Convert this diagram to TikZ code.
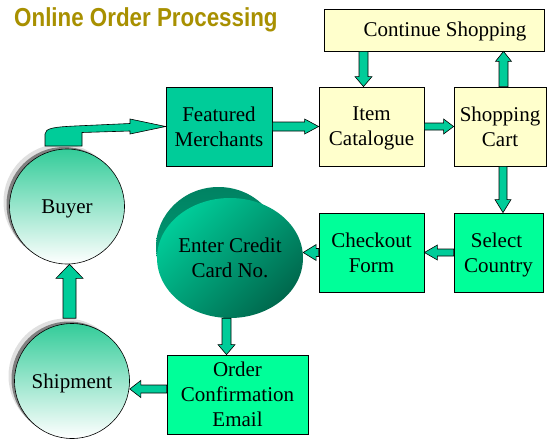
\documentclass[tikz,border=0pt]{standalone}
\usepackage{fontspec}
\setmainfont{Liberation Serif}
\newfontfamily\titlefont{Liberation Sans}
\usetikzlibrary{calc,shapes.geometric}
\definecolor{teal1}{HTML}{00CC99}
\definecolor{green1}{HTML}{00FF99}
\definecolor{yell}{HTML}{FFFFCC}
\definecolor{olive1}{HTML}{A89000}
\definecolor{circtop}{HTML}{33CC99}
\definecolor{ecl}{HTML}{00CC99}
\definecolor{ecd}{HTML}{00684D}
\definecolor{ebl}{HTML}{00A880}
\definecolor{ebd}{HTML}{008262}
\newcommand\barrow[5]{%
  \path (#1) coordinate (ba) (#2) coordinate (bb);
  \path ($(bb)!#5!(ba)$) coordinate (bc);
  \draw[blk] ($(ba)!#3!90:(bb)$) -- ($(bc)!#3!90:(bb)$) -- ($(bc)!#4!90:(bb)$) -- (bb)
     -- ($(bc)!#4!-90:(bb)$) -- ($(bc)!#3!-90:(bb)$) -- ($(ba)!#3!-90:(bb)$) -- cycle;}
\begin{document}
\begin{tikzpicture}[x=1pt,y=-1pt,
  blk/.style={draw=black,line width=0.6pt,fill=teal1,line join=miter},
  box/.style={draw=black,line width=0.8pt,inner sep=0pt,align=center,
    font=\fontsize{21}{25}\selectfont,text depth=0pt},
  rnd/.style={circle,draw=black,line width=0.6pt,inner sep=0pt,minimum size=115pt,
    top color=circtop,bottom color=white,font=\fontsize{21}{25}\selectfont,
    text height=14pt,text depth=0pt},
  shad/.style={fill=black!50},
  halo/.style={fill=black!12}]
\fill[white] (0,0) rectangle (553,444);
\useasboundingbox (0,0) rectangle (553,444);
% title
\node[anchor=base west,inner sep=0pt,text=olive1,font=\titlefont\bfseries\fontsize{26}{30}\selectfont]
  (title) at (14,27) {\scalebox{0.86}[1]{Online Order Processing}};
% boxes
\node[box,fill=teal1,minimum width=106pt,minimum height=79pt] (fm) at (219,126.5) {Featured\\Merchants};
\node[box,fill=yell,minimum width=105pt,minimum height=79pt] (ic) at (371.5,126.5) {Item\\Catalogue};
\node[box,fill=yell,minimum width=92pt,minimum height=79pt] (sc) at (500,126.5) {Shopping\\Cart};
\node[box,fill=yell,minimum width=220pt,minimum height=42pt,text height=14pt] (cs) at (434,30) {\hspace*{22pt}Continue Shopping};
\node[box,fill=green1,minimum width=105pt,minimum height=79pt] (co) at (371.5,252.5) {Checkout\\Form};
\node[box,fill=green1,minimum width=89pt,minimum height=79pt] (scn) at (498.5,252.5) {Select\hspace*{4pt}\\Country};
\node[box,fill=green1,minimum width=141pt,minimum height=79pt] (oc) at (237.5,394.5) {Order\\Confirmation\\Email};
% circles
\coordinate (byc) at (67,206.5);
\coordinate (shc) at (72,381);
\fill[halo] ($(byc)+(-6,-5)$) circle (57.5pt);
\fill[shad] ($(byc)+(-3,-2)$) circle (57.5pt);
\node[rnd] (by) at (byc) {Buyer};
\fill[halo] ($(shc)+(-6,-5)$) circle (57.5pt);
\fill[shad] ($(shc)+(-3,-2)$) circle (57.5pt);
\node[rnd] (sh) at (shc) {Shipment};
% enter credit card disk
\shade[top color=ebd,bottom color=ebl] (218.5,247) ellipse [x radius=62.5pt,y radius=60pt];
\node[ellipse,inner sep=0pt,minimum width=125pt,minimum height=120pt,
  top color=ecl,bottom color=ecd,shading angle=45,
  font=\fontsize{21}{25}\selectfont,align=center,text depth=0pt] (ec) at (230,258) {Enter Credit\\Card No.};
% block arrows
\barrow{fm.east}{ic.west}{4.5pt}{7.5pt}{14pt}
\barrow{ic.east}{sc.west}{3.5pt}{7.5pt}{10pt}
\coordinate (a1) at ([xshift=-8pt]ic.north);
\barrow{a1 |- cs.south}{a1}{4.5pt}{8.5pt}{10pt}
\coordinate (a2) at ([xshift=3.5pt]sc.north);
\barrow{a2}{a2 |- cs.south}{4.5pt}{8pt}{10pt}
\coordinate (a3) at ([xshift=3pt]sc.south);
\barrow{a3}{a3 |- scn.north}{4pt}{8pt}{13pt}
\barrow{scn.west}{co.east}{3.5pt}{7.5pt}{13pt}
\barrow{co.west}{co.west -| ec.east}{4pt}{8pt}{13pt}
\coordinate (a4) at ([xshift=-3.5pt]ec.south);
\barrow{a4}{a4 |- oc.north}{4.5pt}{8.5pt}{10pt}
\coordinate (a5) at ([yshift=5.5pt]oc.west);
\barrow{a5}{a5 -| sh.east}{4pt}{8.5pt}{11pt}
\coordinate (a6) at ([xshift=-2.5pt,yshift=5pt]sh.north);
\barrow{a6}{a6 |- by.south}{6.5pt}{13.5pt}{14pt}
% curved arrow buyer -> featured merchants
\draw[blk] (45,146) -- (45,134) .. controls (45,128) and (55,127) .. (75,126)
  -- (130,123.5) -- (130,119) -- (fm.west) -- (130,134) -- (130,131)
  -- (82,132.5) -- (82,146) -- cycle;
\end{tikzpicture}
\end{document}
